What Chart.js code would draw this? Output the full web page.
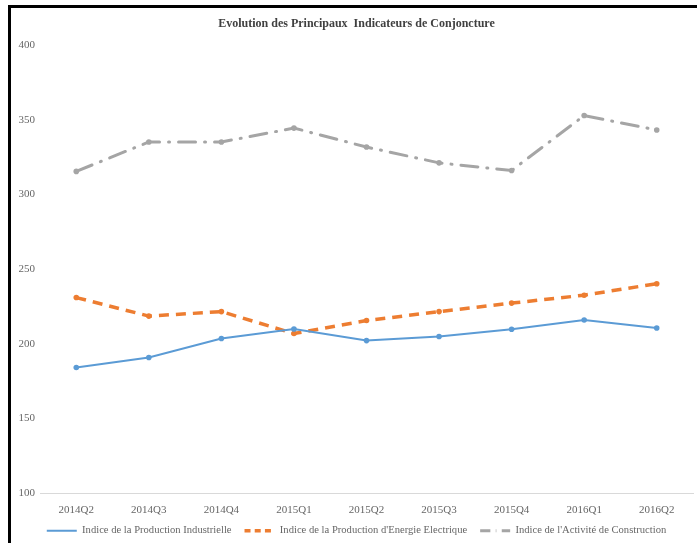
<!DOCTYPE html>
<html>
<head>
<meta charset="utf-8">
<script src="https://cdn.jsdelivr.net/npm/chart.js@4.4.0/dist/chart.umd.min.js"></script>
<style>
  html, body { margin: 0; padding: 0; background: #fff; }
  #wrap { position: absolute; left: 0; top: 0; width: 697px; height: 543px; }
  #cadre { position: absolute; left: 8px; top: 5px; width: 700px; height: 550px;
           border-top: 3px solid #000; border-left: 3px solid #000; pointer-events: none; }
</style>
</head>
<body>
<div id="wrap"><canvas id="chartConjoncture"></canvas></div>
<div id="cadre"></div>
<script>
const trimestres = ["2014Q2", "2014Q3", "2014Q4", "2015Q1", "2015Q2", "2015Q3", "2015Q4", "2016Q1", "2016Q2"];
const productionIndustrielle = [184.2, 190.9, 203.6, 210.0, 202.2, 204.9, 209.8, 216.0, 210.6];
const energieElectrique = [231.0, 218.6, 221.6, 206.9, 215.6, 221.6, 227.3, 232.6, 240.3];
const activiteConstruction = [315.5, 335.2, 335.2, 344.5, 331.8, 321.2, 316.1, 352.9, 343.2];

const police = "'Liberation Serif', 'Times New Roman', serif";
const gris = "#666666";
const reductionAxeX = 14;

// rend aux étiquettes de l'axe X la place retirée dans afterFit (sinon elles sont rognées)
const etiquettesX = {
    id: "etiquettesX",
    afterLayout: chart => { chart.scales.x.bottom += reductionAxeX; }
};

document.addEventListener("DOMContentLoaded", () => {
    const ctx = document.getElementById("chartConjoncture");

    new Chart(ctx, {
        type: "line",
        data: {
            labels: trimestres,
            datasets: [
                {
                    label: "Indice de la Production Industrielle",
                    data: productionIndustrielle,
                    borderColor: "#5B9BD5",
                    backgroundColor: "#5B9BD5",
                    borderWidth: 2,
                    pointRadius: 2.8,
                    pointBorderWidth: 0,
                    tension: 0
                },
                {
                    label: "Indice de la Production d'Energie Electrique",
                    data: energieElectrique,
                    borderColor: "#ED7D31",
                    backgroundColor: "#ED7D31",
                    borderWidth: 3.5,
                    borderDash: [10, 7],
                    pointRadius: 2.8,
                    pointBorderWidth: 0,
                    tension: 0
                },
                {
                    label: "Indice de l'Activité de Construction",
                    data: activiteConstruction,
                    borderColor: "#A5A5A5",
                    backgroundColor: "#A5A5A5",
                    borderWidth: 3,
                    borderDash: [17, 9, 1, 9],
                    borderCapStyle: "round",
                    pointRadius: 2.8,
                    pointBorderWidth: 0,
                    tension: 0
                }
            ]
        },
        plugins: [etiquettesX],
        options: {
            responsive: true,
            maintainAspectRatio: false,
            animation: false,
            layout: { padding: { left: 18, right: 2, top: 0, bottom: -3 } },
            plugins: {
                title: {
                    display: true,
                    text: "Evolution des Principaux  Indicateurs de Conjoncture",
                    color: "#404040",
                    font: { family: police, size: 12, weight: "bold" },
                    padding: { top: 16.5, bottom: 14.3 }
                },
                legend: {
                    position: "bottom",
                    labels: {
                        color: gris,
                        font: { family: police, size: 10.6 },
                        usePointStyle: true,
                        pointStyleWidth: 30,
                        boxWidth: 30,
                        boxHeight: 11,
                        padding: 13,
                        generateLabels: chart => {
                            const items = Chart.defaults.plugins.legend.labels.generateLabels(chart);
                            items.forEach(item => {
                                const ds = chart.data.datasets[item.datasetIndex];
                                item.pointStyle = "line";
                                item.strokeStyle = ds.borderColor;
                                item.lineWidth = ds.borderWidth;
                                item.lineDash = ds.borderDash ? ds.borderDash.map(v => v * 0.6) : [];
                            });
                            return items;
                        }
                    }
                },
                tooltip: { enabled: false }
            },
            scales: {
                x: {
                    offset: true,
                    grid: { display: false, drawTicks: false },
                    border: { color: "#d9d9d9", width: 1 },
                    afterFit: scale => { scale.height -= reductionAxeX; },
                    ticks: {
                        color: gris,
                        font: { family: police, size: 11 },
                        padding: 10,
                        maxRotation: 0
                    }
                },
                y: {
                    min: 100,
                    max: 400,
                    grid: { display: false, drawTicks: false },
                    border: { display: false },
                    afterFit: scale => { scale.width = 22; },
                    ticks: {
                        stepSize: 50,
                        color: gris,
                        font: { family: police, size: 11 },
                        padding: 5
                    }
                }
            }
        }
    });
});
</script>
</body>
</html>
